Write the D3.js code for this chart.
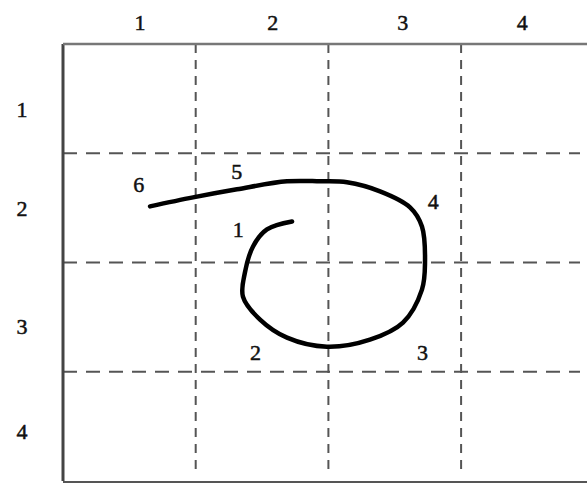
<!DOCTYPE html>
<html>
<head>
<meta charset="utf-8">
<script src="https://cdn.jsdelivr.net/npm/d3@7"></script>
<style>
  body { margin: 0; background: #fff; }
  svg { display: block; }
  text { font-family: "Liberation Serif", "DejaVu Serif", serif; }
</style>
</head>
<body>
<div id="chart"></div>
<script>
// grid labels
const colLabels = ["1", "2", "3", "4"];
const colLabelAt = [0.58, 1.58, 2.56, 3.46];
const rowLabels = ["1", "2", "3", "4"];
const rowLabelAt = [0.6, 1.51, 2.59, 3.55];
const gridX = [1, 2, 3];
const gridY = [1, 2, 3];

// the spiral path (grid units, origin top-left)
const pathX = [1.726, 1.537, 1.432, 1.371, 1.356, 1.485, 1.688, 1.989, 2.313, 2.562, 2.705, 2.728, 2.705, 2.615, 2.389, 2.140, 1.937, 1.688, 1.311, 0.980, 0.656];
const pathY = [1.624, 1.697, 1.853, 2.092, 2.312, 2.523, 2.688, 2.771, 2.706, 2.550, 2.248, 2.000, 1.670, 1.495, 1.349, 1.266, 1.257, 1.257, 1.330, 1.404, 1.486];

// numbered points along the path
const stepLabels = ["1", "2", "3", "4", "5", "6"];
const stepX = [1.32, 1.45, 2.71, 2.79, 1.31, 0.57];
const stepY = [1.70, 2.82, 2.82, 1.44, 1.17, 1.29];

const width = 587;
const height = 484;
const margin = { top: 44, left: 63 };

const x = d3.scaleLinear().domain([0, 4]).range([margin.left, margin.left + 4 * 132.7]);
const y = d3.scaleLinear().domain([0, 4]).range([margin.top, 481]);

const svg = d3.select("#chart")
    .append("svg")
    .attr("width", width)
    .attr("height", height);

// dashed grid
svg.selectAll(".vgrid")
    .data(gridX)
    .enter()
    .append("line")
    .attr("x1", d => x(d))
    .attr("x2", d => x(d))
    .attr("y1", y(0))
    .attr("y2", 476)
    .attr("stroke", "#555")
    .attr("stroke-width", 2)
    .attr("stroke-dasharray", "9,7");

svg.selectAll(".hgrid")
    .data(gridY)
    .enter()
    .append("line")
    .attr("x1", x(0))
    .attr("x2", 580)
    .attr("y1", d => y(d))
    .attr("y2", d => y(d))
    .attr("stroke", "#555")
    .attr("stroke-width", 2)
    .attr("stroke-dasharray", "14,9");

// frame: left, top, bottom
svg.append("line")
    .attr("x1", x(0)).attr("x2", x(0))
    .attr("y1", y(0)).attr("y2", y(4))
    .attr("stroke", "#444").attr("stroke-width", 3);
svg.append("line")
    .attr("x1", x(0)).attr("x2", width)
    .attr("y1", y(0)).attr("y2", y(0))
    .attr("stroke", "#777").attr("stroke-width", 2.5);
svg.append("line")
    .attr("x1", x(0)).attr("x2", width)
    .attr("y1", y(4) + 1).attr("y2", y(4) + 1)
    .attr("stroke", "#555").attr("stroke-width", 2);

// axis labels
function label(sel) {
    sel.attr("text-anchor", "middle")
        .attr("dominant-baseline", "central")
        .attr("font-size", "22px")
        .attr("fill", "#111")
        .attr("stroke", "#111")
        .attr("stroke-width", 0.5)
        .text(d => d);
}

svg.selectAll(".col")
    .data(colLabels)
    .enter()
    .append("text")
    .attr("x", (d, i) => x(colLabelAt[i]))
    .attr("y", 22)
    .call(label);

svg.selectAll(".row")
    .data(rowLabels)
    .enter()
    .append("text")
    .attr("x", 22)
    .attr("y", (d, i) => y(rowLabelAt[i]))
    .call(label);

// spiral
const line = d3.line()
    .x(d => x(d[0]))
    .y(d => y(d[1]))
    .curve(d3.curveCatmullRom);

svg.append("path")
    .datum(pathX.map((d, i) => [d, pathY[i]]))
    .attr("d", line)
    .attr("fill", "none")
    .attr("stroke", "#000")
    .attr("stroke-width", 4.5)
    .attr("stroke-linecap", "round");

svg.selectAll(".step")
    .data(stepLabels)
    .enter()
    .append("text")
    .attr("x", (d, i) => x(stepX[i]))
    .attr("y", (d, i) => y(stepY[i]))
    .call(label);
</script>
</body>
</html>
